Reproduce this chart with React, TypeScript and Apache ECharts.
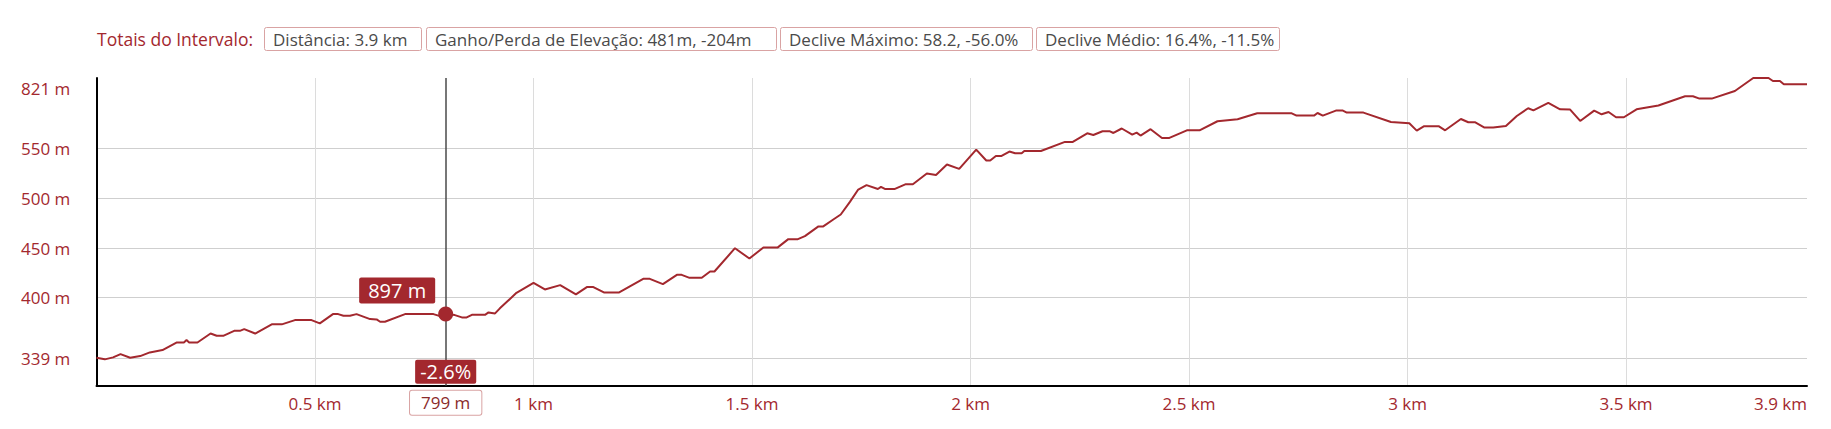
import React, { useEffect, useRef } from "react";
import * as echarts from "echarts";

// distance (km) and elevation (axis units) of the profile
const distKm: number[] = [
  0.0, 0.019, 0.038, 0.055, 0.077, 0.1, 0.122, 0.151, 0.184, 0.2, 0.206, 0.212, 0.231, 0.261, 0.275, 0.29,
  0.315, 0.328, 0.338, 0.363, 0.401, 0.424, 0.454, 0.492, 0.511, 0.541, 0.553, 0.565, 0.58, 0.595, 0.626,
  0.641, 0.649, 0.66, 0.706, 0.771, 0.786, 0.799, 0.82, 0.836, 0.847, 0.859, 0.889, 0.897, 0.912, 0.923,
  0.961, 1.0, 1.026, 1.061, 1.097, 1.122, 1.137, 1.161, 1.196, 1.251, 1.266, 1.296, 1.328, 1.339, 1.357,
  1.385, 1.404, 1.414, 1.461, 1.494, 1.526, 1.559, 1.583, 1.605, 1.621, 1.652, 1.663, 1.686, 1.703, 1.724,
  1.743, 1.762, 1.788, 1.795, 1.804, 1.827, 1.852, 1.868, 1.9, 1.921, 1.946, 1.974, 2.013, 2.036, 2.045,
  2.058, 2.071, 2.089, 2.102, 2.117, 2.123, 2.161, 2.216, 2.234, 2.267, 2.281, 2.302, 2.319, 2.327, 2.346,
  2.37, 2.38, 2.389, 2.412, 2.438, 2.455, 2.495, 2.524, 2.565, 2.611, 2.656, 2.735, 2.746, 2.786, 2.794,
  2.806, 2.836, 2.852, 2.861, 2.899, 2.962, 3.004, 3.021, 3.038, 3.071, 3.086, 3.122, 3.139, 3.154, 3.176,
  3.196, 3.225, 3.25, 3.276, 3.288, 3.322, 3.349, 3.372, 3.395, 3.427, 3.444, 3.46, 3.477, 3.495, 3.524,
  3.574, 3.635, 3.653, 3.668, 3.696, 3.749, 3.791, 3.826, 3.836, 3.852, 3.861, 3.914,
];
const elevation: number[] = [
  339.6, 338, 340, 343.3, 339.6, 341.3, 345, 347.3, 355, 355, 357.4, 355, 355, 364, 361.7, 361.7,
  366.7, 366.7, 368.4, 364, 373.2, 373.2, 377.5, 377.5, 374.2, 383.5, 383.5, 381.8, 381.8, 383.5, 378.5,
  378.2, 375.8, 375.8, 383.5, 383.5, 381.5, 383.5, 382.5, 380.2, 380.2, 382.8, 382.8, 385.2, 384.2, 389.3,
  404.9, 415, 408.3, 412.7, 403.3, 410.7, 410.7, 405.3, 405.3, 419, 419, 413.7, 423, 423, 420,
  420, 426.4, 426.4, 449.8, 439.4, 450.6, 450.6, 458.9, 458.9, 461.9, 471.7, 471.7, 478.7, 483.7, 496.4,
  508.8, 513.2, 509.4, 511.5, 509.4, 509.4, 514.2, 514.2, 524.9, 523.5, 534, 529.6, 549, 538, 538,
  542.6, 542.6, 547, 545.3, 545.3, 547.6, 547.6, 556.7, 556.7, 565.4, 563.7, 567.4, 567.4, 565.7, 570.2,
  564.1, 566.1, 563.1, 569.5, 560.7, 560.7, 568.4, 568.4, 577.5, 579.5, 585.5, 585.5, 583.2, 583.2, 585.8,
  583.2, 588.2, 588.2, 586.2, 586.2, 576.8, 575.5, 568.1, 572.5, 572.5, 568.4, 579.8, 576.5, 576.5, 571.2,
  571.2, 572.8, 582.8, 590.6, 588.5, 595.9, 589.5, 589.2, 577.8, 588.2, 584.5, 586.8, 581.5, 581.5, 589.5,
  593.3, 602.6, 602.6, 600.3, 600.3, 607.9, 621, 621, 618, 618, 614.7, 614.7,
];

const X_MIN = 0;
const X_MAX = 3.914;
const Y_MIN = 311.5;
const Y_MAX = 621;

const xTickValues: number[] = [0.5, 1, 1.5, 2, 2.5, 3, 3.5];
const xLabelValues: number[] = [0.5, 1, 1.5, 2, 2.5, 3, 3.5, 3.914];
const xMaxLabel = "3.9 km";

const yTickValues: number[] = [339, 400, 450, 500, 550];
const yLabelValues: number[] = [339, 400, 450, 500, 550, 610.6];
const yTopLabel = "821 m";

// hovered point
const hoverKm = 0.799;
const hoverElevation = 383.5;
const hoverElevationLabel = "897 m";
const hoverSlopeLabel = "-2.6%";
const hoverDistLabel = "799 m";

const headerTitle = "Totais do Intervalo:";
const headerItems: string[] = [
  "Distância: 3.9 km",
  "Ganho/Perda de Elevação: 481m, -204m",
  "Declive Máximo: 58.2, -56.0%",
  "Declive Médio: 16.4%, -11.5%",
];
// box left / right edges (layout)
const headerBoxLeft: number[] = [264, 426, 780, 1036];
const headerBoxRight: number[] = [422, 777, 1033, 1280];

const RED = "#a3282e";
const FONT = "'Open Sans', sans-serif";

export default function App() {
  const ref = useRef<HTMLDivElement>(null);

  useEffect(() => {
    if (!ref.current) return;
    const chart = echarts.init(ref.current, undefined, { renderer: "svg" });

    const lineData = distKm.map((d, i) => [d, elevation[i]]);

    const graphics: any[] = [
      {
        type: "text",
        x: 97,
        y: 39,
        style: {
          text: headerTitle,
          fill: RED,
          font: `17.5px ${FONT}`,
          align: "left",
          verticalAlign: "middle",
        },
      },
    ];
    headerItems.forEach((t, i) => {
      const l = headerBoxLeft[i];
      const r = headerBoxRight[i];
      graphics.push({
        type: "rect",
        shape: { x: l + 0.5, y: 27.5, width: r - l - 1, height: 23, r: 2 },
        style: { fill: "#fff", stroke: "#d9a3a3", lineWidth: 1 },
      });
      graphics.push({
        type: "text",
        x: l + 9,
        y: 39,
        style: {
          text: t,
          fill: "#4a4a4a",
          font: `17px ${FONT}`,
          align: "left",
          verticalAlign: "middle",
        },
      });
    });

    chart.setOption({
      animation: false,
      textStyle: { fontFamily: FONT },
      grid: { left: 96.5, top: 78, right: 24, bottom: 43.3, containLabel: false },
      graphic: graphics,
      xAxis: {
        type: "value",
        min: X_MIN,
        max: X_MAX,
        axisLine: { show: true, lineStyle: { color: "#000", width: 2 } },
        axisTick: { show: false, customValues: xTickValues },
        splitLine: { show: true, lineStyle: { color: "#dcdcdc", width: 1 } },
        axisLabel: {
          customValues: xLabelValues,
          color: RED,
          fontSize: 17,
          margin: 9,
          alignMaxLabel: "right",
          formatter: (v: number) => (v > 3.8 ? xMaxLabel : `${v} km`),
        },
      },
      yAxis: {
        type: "value",
        min: Y_MIN,
        max: Y_MAX,
        axisLine: { show: true, lineStyle: { color: "#000", width: 2 } },
        axisTick: { show: false, customValues: yTickValues },
        splitLine: { show: true, lineStyle: { color: "#cfcfcf", width: 1 } },
        axisLabel: {
          customValues: yLabelValues,
          color: RED,
          fontSize: 17,
          align: "left",
          margin: 75.5,
          formatter: (v: number) => (v > 600 ? yTopLabel : `${v} m`),
        },
      },
      series: [
        {
          type: "line",
          data: lineData,
          showSymbol: false,
          symbol: "none",
          lineStyle: { color: RED, width: 2 },
          itemStyle: { color: RED },
          markLine: {
            silent: true,
            symbol: ["none", "none"],
            label: { show: false },
            lineStyle: { color: "#4a4a4a", width: 1.5, type: "solid", opacity: 1 },
            data: [{ xAxis: hoverKm }],
          },
        },
        {
          type: "scatter",
          clip: false,
          z: 5,
          silent: true,
          data: [
            {
              value: [hoverKm, hoverElevation],
              symbolSize: 15,
              itemStyle: { color: RED, opacity: 1 },
              label: {
                show: true,
                formatter: hoverElevationLabel,
                position: [-3, -3],
                align: "right",
                verticalAlign: "bottom",
                color: "#fff",
                fontSize: 20,
                lineHeight: 20,
                opacity: 1,
                backgroundColor: RED,
                padding: [3, 9, 3, 9],
                borderRadius: 2,
              },
            },
            {
              value: [hoverKm, Y_MIN],
              symbolSize: 0,
              itemStyle: { color: RED, opacity: 1 },
              label: {
                show: true,
                formatter: hoverSlopeLabel,
                position: "top",
                distance: 2,
                color: "#fff",
                fontSize: 20,
                lineHeight: 20,
                opacity: 1,
                backgroundColor: RED,
                padding: [2, 5, 2, 5],
                borderRadius: 2,
              },
            },
            {
              value: [hoverKm, Y_MIN],
              symbolSize: 0,
              itemStyle: { color: RED, opacity: 1 },
              label: {
                show: true,
                formatter: hoverDistLabel,
                position: "bottom",
                distance: 5,
                color: "#8b2b2b",
                fontSize: 17,
                lineHeight: 18,
                opacity: 1,
                backgroundColor: "#fff",
                borderColor: "#d9a3a3",
                borderWidth: 1,
                padding: [3, 11, 3, 11],
                borderRadius: 2,
              },
            },
          ],
        },
      ],
    });

    return () => chart.dispose();
  }, []);

  return (
    <div
      ref={ref}
      style={{ position: "absolute", left: 0, top: 0, width: 1831, height: 429 }}
    />
  );
}
